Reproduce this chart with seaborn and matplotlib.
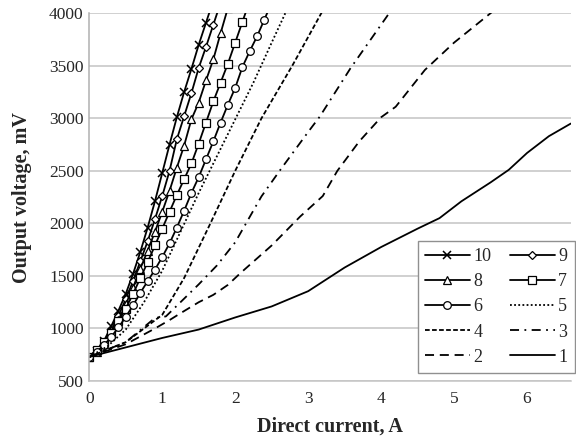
import numpy as np
import pandas as pd
import matplotlib
matplotlib.use("Agg")
import matplotlib.pyplot as plt
import seaborn as sns

sns.set_style("white")
plt.rcParams['font.family'] = ['Liberation Serif', 'DejaVu Serif']

# ---- data (current in A, voltage in mV) ----
step_x = [round(0.1 * i, 1) for i in range(26)]

s10_y = [730, 790, 880, 1020, 1170, 1330, 1520, 1730, 1960, 2210, 2480, 2750, 3010, 3250, 3470, 3700, 3910, 4120]
s9_y = [730, 780, 860, 980, 1120, 1280, 1450, 1640, 1830, 2040, 2260, 2500, 2800, 3020, 3240, 3480, 3680, 3890, 4100]
s8_y = [730, 780, 850, 950, 1080, 1230, 1390, 1570, 1740, 1920, 2110, 2310, 2530, 2740, 2990, 3150, 3360, 3560, 3810, 4050]
s7_y = [730, 800, 870, 960, 1070, 1190, 1330, 1480, 1630, 1790, 1950, 2110, 2270, 2420, 2570, 2760, 2960, 3160, 3340, 3520, 3720, 3920, 4120]
s6_y = [730, 780, 840, 920, 1010, 1110, 1220, 1340, 1450, 1560, 1680, 1810, 1960, 2120, 2290, 2440, 2610, 2780, 2960, 3130, 3290, 3490, 3640, 3780, 3940, 4100]

s5_x = [0, 0.25, 0.5, 0.75, 1.0, 1.25, 1.5, 1.75, 2.0, 2.25, 2.5, 2.7]
s5_y = [730, 830, 990, 1250, 1550, 1920, 2290, 2640, 2990, 3340, 3720, 4020]

s4_x = [0, 0.5, 1.0, 1.3, 1.66, 2.0, 2.36, 2.79, 3.18, 3.3]
s4_y = [730, 870, 1130, 1480, 2000, 2500, 3000, 3510, 4000, 4150]

s3_x = [0, 0.5, 0.9, 1.05, 1.25, 1.5, 1.75, 2.0, 2.36, 2.62, 3.0, 3.16, 3.58, 4.07, 4.2]
s3_y = [730, 870, 1100, 1115, 1250, 1420, 1600, 1820, 2257, 2511, 2870, 3017, 3476, 3960, 4090]

s2_x = [0, 0.5, 0.9, 1.1, 1.25, 1.5, 1.7, 1.9, 2.07, 2.5, 2.89, 3.2, 3.4, 3.7, 4.0, 4.2, 4.6, 5.0, 5.5, 5.7]
s2_y = [730, 850, 1000, 1080, 1145, 1250, 1320, 1415, 1526, 1790, 2065, 2260, 2500, 2780, 3010, 3110, 3460, 3720, 4000, 4120]

s1_x = [0, 0.5, 1.0, 1.5, 2.0, 2.5, 3.0, 3.5, 4.0, 4.5, 4.8, 5.1, 5.5, 5.75, 6.0, 6.3, 6.6]
s1_y = [730, 820, 910, 990, 1105, 1210, 1355, 1580, 1775, 1950, 2050, 2210, 2390, 2510, 2670, 2830, 2950]

x_ticks = [0, 1, 2, 3, 4, 5, 6]
y_ticks = [500, 1000, 1500, 2000, 2500, 3000, 3500, 4000]

series = [
    ("10", step_x[:len(s10_y)], s10_y, dict(marker="x", ms=5.5, mew=1.1, linestyle="-")),
    ("9", step_x[:len(s9_y)], s9_y, dict(marker="D", ms=3.8, mew=0.9, linestyle="-")),
    ("8", step_x[:len(s8_y)], s8_y, dict(marker="^", ms=5.5, mew=0.9, linestyle="-")),
    ("7", step_x[:len(s7_y)], s7_y, dict(marker="s", ms=5.3, mew=0.9, linestyle="-")),
    ("6", step_x[:len(s6_y)], s6_y, dict(marker="o", ms=5.5, mew=0.9, linestyle="-")),
    ("5", s5_x, s5_y, dict(marker=None, linestyle=(0, (1, 1.3)))),
    ("4", s4_x, s4_y, dict(marker=None, linestyle=(0, (2.6, 1.3)))),
    ("3", s3_x, s3_y, dict(marker=None, linestyle=(0, (5, 3, 1, 3)))),
    ("2", s2_x, s2_y, dict(marker=None, linestyle=(0, (5, 3.2)))),
    ("1", s1_x, s1_y, dict(marker=None, linestyle="-")),
]

fig, ax = plt.subplots(figsize=(5.76, 4.40), dpi=100)
fig.subplots_adjust(left=0.155, right=0.991, top=0.970, bottom=0.134)

handles = {}
for name, xs, ys, st in series:
    df = pd.DataFrame({"x": xs, "y": ys})
    kw = dict(color="black", linewidth=1.3, linestyle=st["linestyle"])
    if st["marker"]:
        kw.update(marker=st["marker"], markersize=st["ms"], markeredgewidth=st["mew"],
                  markeredgecolor="black", markerfacecolor="white")
    sns.lineplot(data=df, x="x", y="y", ax=ax, sort=False, estimator=None,
                 label=name, **kw)
    handles[name] = ax.get_lines()[-1]

ax.set_xlim(0, 6.6)
ax.set_ylim(500, 4000)
ax.set_xticks(x_ticks)
ax.set_yticks(y_ticks)
ax.tick_params(axis="both", length=0, labelsize=12.5)
ax.tick_params(axis="x", pad=7)
ax.tick_params(axis="y", pad=4)
ax.yaxis.grid(True, color="#c4c4c4", linewidth=1.1)
ax.xaxis.grid(False)
for side in ["top", "right"]:
    ax.spines[side].set_visible(False)
ax.spines["left"].set_color("#b0b0b0")
ax.spines["bottom"].set_color("#c4c4c4")
ax.spines["left"].set_linewidth(1.1)
ax.spines["bottom"].set_linewidth(1.1)

ax.set_xlabel("Direct current, A", fontsize=14.5, fontweight="bold", labelpad=7)
ax.set_ylabel("Output voltage, mV", fontsize=14.5, fontweight="bold", labelpad=12)

order = ["10", "8", "6", "4", "2", "9", "7", "5", "3", "1"]
leg = ax.legend([handles[k] for k in order], order, ncol=2, loc="lower right",
                bbox_to_anchor=(1.008, 0.022), borderaxespad=0, fontsize=13,
                handlelength=2.5, handletextpad=0.2, columnspacing=1.0,
                labelspacing=0.45, frameon=True, fancybox=False, framealpha=1,
                edgecolor="#909090", borderpad=0.4)
leg.get_frame().set_linewidth(1.0)
leg.set_clip_on(False)

fig.savefig("out.png", dpi=100)
